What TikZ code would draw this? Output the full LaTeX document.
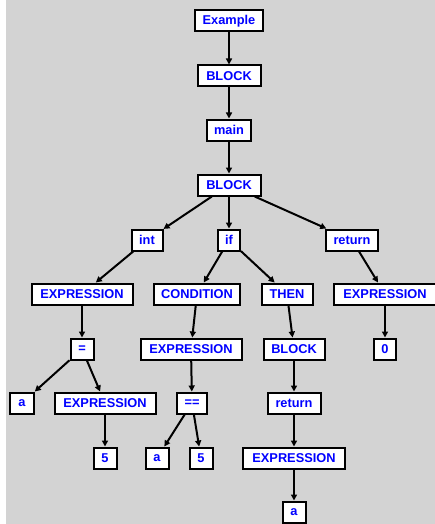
\documentclass[tikz,border=0pt]{standalone}
\usepackage{fontspec}
\setmainfont{Liberation Sans}
\usetikzlibrary{arrows.meta}
\definecolor{canvas}{RGB}{211,211,211}
\definecolor{labelblue}{RGB}{0,0,255}
\tikzset{
  box/.style={draw=black, fill=white, line width=2pt, rectangle,
    inner sep=0pt, minimum height=21pt, minimum width=#1,
    text=labelblue, font=\fontsize{12.8}{14}\selectfont\bfseries},
  box/.default=22pt,
  edge/.style={line width=2pt, draw=black,
    -{Triangle[length=6pt,width=6pt]}, shorten >=0pt}
}
\begin{document}
\begin{tikzpicture}[x=1pt, y=-1pt]
  % canvas
  \fill[white] (0,0) rectangle (435,524);
  \fill[canvas] (6,0) rectangle (435,524);
  \useasboundingbox (0,0) rectangle (435,524);
  \clip (0,0) rectangle (435,524);

  % syntax tree nodes
  \node[box=68pt]  (example) at (229,21)  {Example};
  \node[box=63pt]  (block1)  at (229,76)  {BLOCK};
  \node[box=44pt]  (main)    at (229,130) {main};
  \node[box=63pt]  (block2)  at (229,185) {BLOCK};

  \node[box=31pt]  (int)     at (147,240) {int};
  \node[box=22pt]  (if)      at (229,240) {if};
  \node[box=52pt]  (ret1)    at (352,240) {return};

  \node[box=101pt] (expr1)   at (82,294)  {EXPRESSION};
  \node[box=86pt]  (cond)    at (197,294) {CONDITION};
  \node[box=51pt]  (then)    at (287,294) {THEN};
  \node[box=102pt] (expr2)   at (385,294) {EXPRESSION};

  \node[box=23pt]  (eq)      at (82,349)  {=};
  \node[box=101pt] (expr3)   at (191,349) {EXPRESSION};
  \node[box=61pt]  (block3)  at (294,349) {BLOCK};
  \node[box=22pt]  (zero)    at (385,349) {0};

  \node[box=24pt]  (a1)      at (22,403)  {a};
  \node[box=101pt] (expr4)   at (105,403) {EXPRESSION};
  \node[box=30pt]  (eqeq)    at (192,403) {==};
  \node[box=53pt]  (ret2)    at (294,403) {return};

  \node[box=23pt]  (five1)   at (105,458) {5};
  \node[box=23pt]  (a2)      at (157,458) {a};
  \node[box=23pt]  (five2)   at (201,458) {5};
  \node[box=102pt] (expr5)   at (294,458) {EXPRESSION};

  \node[box=23pt]  (a3)      at (294,512) {a};

  % parent -> child edges
  \draw[edge] (example) -- (block1);
  \draw[edge] (block1) -- (main);
  \draw[edge] (main) -- (block2);
  \draw[edge] (block2) -- (int);
  \draw[edge] (block2) -- (if);
  \draw[edge] (block2) -- (ret1);
  \draw[edge] (int) -- (expr1);
  \draw[edge] (if) -- (cond);
  \draw[edge] (if) -- (then);
  \draw[edge] (ret1) -- (expr2);
  \draw[edge] (expr1) -- (eq);
  \draw[edge] (cond) -- (expr3);
  \draw[edge] (then) -- (block3);
  \draw[edge] (expr2) -- (zero);
  \draw[edge] (eq) -- (a1);
  \draw[edge] (eq) -- (expr4);
  \draw[edge] (expr3) -- (eqeq);
  \draw[edge] (block3) -- (ret2);
  \draw[edge] (expr4) -- (five1);
  \draw[edge] (eqeq) -- (a2);
  \draw[edge] (eqeq) -- (five2);
  \draw[edge] (ret2) -- (expr5);
  \draw[edge] (expr5) -- (a3);
\end{tikzpicture}
\end{document}
